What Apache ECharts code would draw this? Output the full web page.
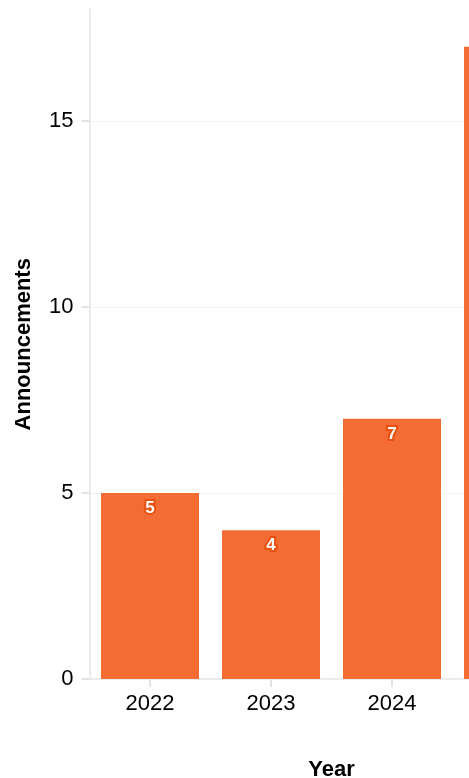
<!DOCTYPE html>
<html>
<head>
<meta charset="utf-8">
<script src="https://cdn.jsdelivr.net/npm/echarts@6/dist/echarts.min.js"></script>
<style>
html,body{margin:0;padding:0;overflow:hidden;background:#fff;}
#c{width:640px;height:778px;}
</style>
</head>
<body>
<div id="c"></div>
<script>
const years = ['2022', '2023', '2024', '2025'];
const announcements = [5, 4, 7, 17];
const yTicks = [0, 5, 10, 15];

const chart = echarts.init(document.getElementById('c'), null, {renderer: 'canvas'});
const font = '"Liberation Sans", Arial, sans-serif';
chart.setOption({
  animation: false,
  grid: {left: 89.5, top: 9.5, width: 484, height: 669.5, containLabel: false, outerBoundsMode: 'none'},
  xAxis: {
    type: 'category',
    data: years,
    name: 'Year',
    nameLocation: 'middle',
    nameGap: 80,
    nameTextStyle: {fontFamily: font, fontSize: 22, fontWeight: 'bold', color: '#000'},
    axisLine: {show: true, lineStyle: {color: '#ebebeb', width: 2}},
    axisTick: {show: true, alignWithLabel: true, length: 8, lineStyle: {color: '#e3e3e3', width: 2}},
    axisLabel: {fontFamily: font, fontSize: 22, color: '#000', margin: 14},
    splitLine: {show: false}
  },
  yAxis: {
    type: 'value',
    min: 0,
    max: 18,
    interval: 5,
    name: 'Announcements',
    nameLocation: 'middle',
    nameGap: 55,
    nameTextStyle: {fontFamily: font, fontSize: 22, fontWeight: 'bold', color: '#000'},
    axisLine: {show: true, lineStyle: {color: '#ebebeb', width: 2}},
    axisTick: {show: true, length: 8, customValues: yTicks, lineStyle: {color: '#e3e3e3', width: 2}},
    axisLabel: {fontFamily: font, fontSize: 22, color: '#000', margin: 16, customValues: yTicks},
    splitLine: {show: true, lineStyle: {color: ['#f3f3f3', '#f3f3f3', '#f3f3f3', '#f3f3f3', 'rgba(0,0,0,0)'], width: 1}}
  },
  series: [{
    type: 'bar',
    data: announcements,
    barWidth: '81%',
    itemStyle: {color: '#f26c34'},
    label: {
      show: true,
      position: 'insideTop',
      distance: 7,
      fontFamily: font,
      fontSize: 17,
      fontWeight: 'bold',
      color: '#fff',
      textBorderColor: '#e9500e',
      textBorderWidth: 4
    }
  }]
});
</script>
</body>
</html>
